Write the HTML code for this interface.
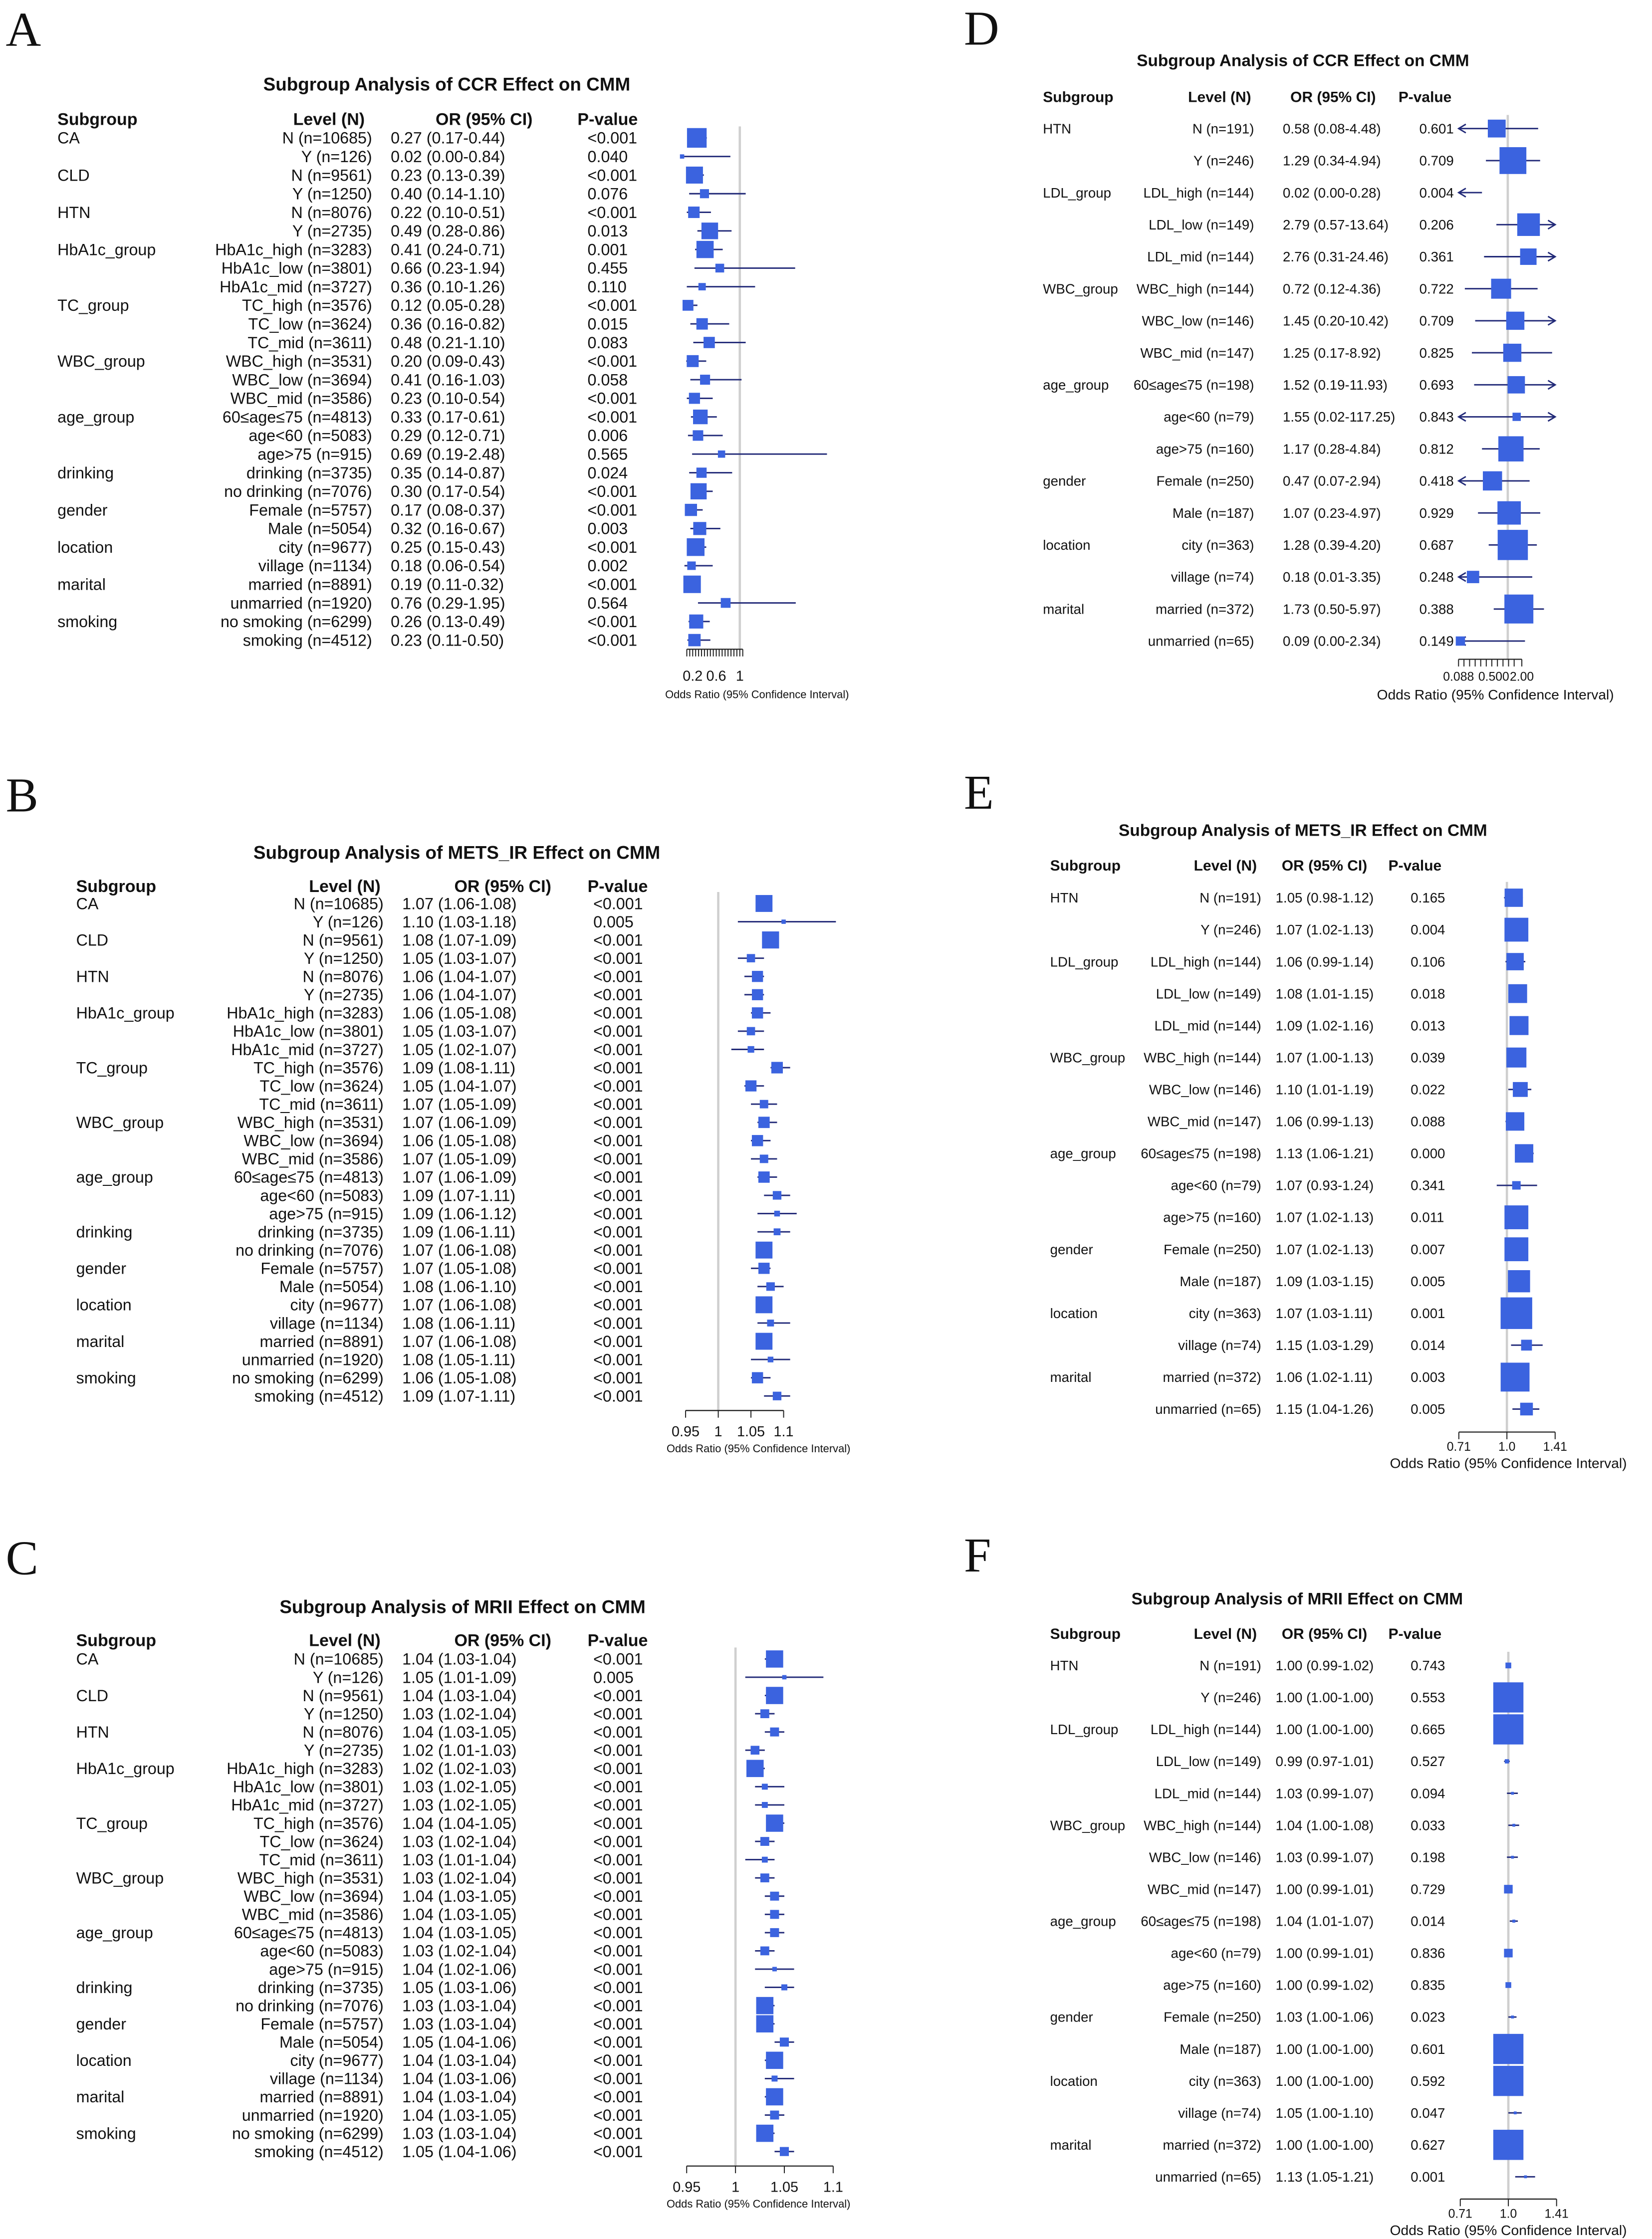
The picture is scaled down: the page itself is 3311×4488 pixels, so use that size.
<!DOCTYPE html>
<html><head><meta charset="utf-8"><style>
html,body{margin:0;padding:0;background:#fff}
svg{display:block}
text{font-family:"Liberation Sans",Arial,sans-serif;fill:#111}
</style></head><body>
<svg id="fig" xmlns="http://www.w3.org/2000/svg" width="3311" height="4488" viewBox="0 0 1150 1558.8" preserveAspectRatio="none"></svg>
<script>
// ---------- Data ----------
const bigGroups = ["CA","CLD","HTN","HbA1c_group","TC_group","WBC_group","age_group","drinking","gender","location","marital","smoking"];
const bigGroupStart = [0,2,4,6,9,12,15,18,20,22,24,26];
const bigLevels = ["N (n=10685)","Y (n=126)","N (n=9561)","Y (n=1250)","N (n=8076)","Y (n=2735)","HbA1c_high (n=3283)","HbA1c_low (n=3801)","HbA1c_mid (n=3727)","TC_high (n=3576)","TC_low (n=3624)","TC_mid (n=3611)","WBC_high (n=3531)","WBC_low (n=3694)","WBC_mid (n=3586)","60≤age≤75 (n=4813)","age<60 (n=5083)","age>75 (n=915)","drinking (n=3735)","no drinking (n=7076)","Female (n=5757)","Male (n=5054)","city (n=9677)","village (n=1134)","married (n=8891)","unmarried (n=1920)","no smoking (n=6299)","smoking (n=4512)"];

const aOR = [0.27,0.02,0.23,0.40,0.22,0.49,0.41,0.66,0.36,0.12,0.36,0.48,0.20,0.41,0.23,0.33,0.29,0.69,0.35,0.30,0.17,0.32,0.25,0.18,0.19,0.76,0.26,0.23];
const aLo = [0.17,0.00,0.13,0.14,0.10,0.28,0.24,0.23,0.10,0.05,0.16,0.21,0.09,0.16,0.10,0.17,0.12,0.19,0.14,0.17,0.08,0.16,0.15,0.06,0.11,0.29,0.13,0.11];
const aHi = [0.44,0.84,0.39,1.10,0.51,0.86,0.71,1.94,1.26,0.28,0.82,1.10,0.43,1.03,0.54,0.61,0.71,2.48,0.87,0.54,0.37,0.67,0.43,0.54,0.32,1.95,0.49,0.50];
const aP = ["<0.001","0.040","<0.001","0.076","<0.001","0.013","0.001","0.455","0.110","<0.001","0.015","0.083","<0.001","0.058","<0.001","<0.001","0.006","0.565","0.024","<0.001","<0.001","0.003","<0.001","0.002","<0.001","0.564","<0.001","<0.001"];

const bOR = [1.07,1.10,1.08,1.05,1.06,1.06,1.06,1.05,1.05,1.09,1.05,1.07,1.07,1.06,1.07,1.07,1.09,1.09,1.09,1.07,1.07,1.08,1.07,1.08,1.07,1.08,1.06,1.09];
const bLo = [1.06,1.03,1.07,1.03,1.04,1.04,1.05,1.03,1.02,1.08,1.04,1.05,1.06,1.05,1.05,1.06,1.07,1.06,1.06,1.06,1.05,1.06,1.06,1.06,1.06,1.05,1.05,1.07];
const bHi = [1.08,1.18,1.09,1.07,1.07,1.07,1.08,1.07,1.07,1.11,1.07,1.09,1.09,1.08,1.09,1.09,1.11,1.12,1.11,1.08,1.08,1.10,1.08,1.11,1.08,1.11,1.08,1.11];
const bP = ["<0.001","0.005","<0.001","<0.001","<0.001","<0.001","<0.001","<0.001","<0.001","<0.001","<0.001","<0.001","<0.001","<0.001","<0.001","<0.001","<0.001","<0.001","<0.001","<0.001","<0.001","<0.001","<0.001","<0.001","<0.001","<0.001","<0.001","<0.001"];

const cOR = [1.04,1.05,1.04,1.03,1.04,1.02,1.02,1.03,1.03,1.04,1.03,1.03,1.03,1.04,1.04,1.04,1.03,1.04,1.05,1.03,1.03,1.05,1.04,1.04,1.04,1.04,1.03,1.05];
const cLo = [1.03,1.01,1.03,1.02,1.03,1.01,1.02,1.02,1.02,1.04,1.02,1.01,1.02,1.03,1.03,1.03,1.02,1.02,1.03,1.03,1.03,1.04,1.03,1.03,1.03,1.03,1.03,1.04];
const cHi = [1.04,1.09,1.04,1.04,1.05,1.03,1.03,1.05,1.05,1.05,1.04,1.04,1.04,1.05,1.05,1.05,1.04,1.06,1.06,1.04,1.04,1.06,1.04,1.06,1.04,1.05,1.04,1.06];
const cP = bP.slice();

const smallGroups = ["HTN","LDL_group","WBC_group","age_group","gender","location","marital"];
const smallGroupStart = [0,2,5,8,11,13,15];
const dLevels = ["N (n=191)","Y (n=246)","LDL_high (n=144)","LDL_low (n=149)","LDL_mid (n=144)","WBC_high (n=144)","WBC_low (n=146)","WBC_mid (n=147)","60≤age≤75 (n=198)","age<60 (n=79)","age>75 (n=160)","Female (n=250)","Male (n=187)","city (n=363)","village (n=74)","married (n=372)","unmarried (n=65)"];

const dOR = [0.58,1.29,0.02,2.79,2.76,0.72,1.45,1.25,1.52,1.55,1.17,0.47,1.07,1.28,0.18,1.73,0.09];
const dLo = [0.08,0.34,0.00,0.57,0.31,0.12,0.20,0.17,0.19,0.02,0.28,0.07,0.23,0.39,0.01,0.50,0.00];
const dHi = [4.48,4.94,0.28,13.64,24.46,4.36,10.42,8.92,11.93,117.25,4.84,2.94,4.97,4.20,3.35,5.97,2.34];
const dP = ["0.601","0.709","0.004","0.206","0.361","0.722","0.709","0.825","0.693","0.843","0.812","0.418","0.929","0.687","0.248","0.388","0.149"];

const eOR = [1.05,1.07,1.06,1.08,1.09,1.07,1.10,1.06,1.13,1.07,1.07,1.07,1.09,1.07,1.15,1.06,1.15];
const eLo = [0.98,1.02,0.99,1.01,1.02,1.00,1.01,0.99,1.06,0.93,1.02,1.02,1.03,1.03,1.03,1.02,1.04];
const eHi = [1.12,1.13,1.14,1.15,1.16,1.13,1.19,1.13,1.21,1.24,1.13,1.13,1.15,1.11,1.29,1.11,1.26];
const eP = ["0.165","0.004","0.106","0.018","0.013","0.039","0.022","0.088","0.000","0.341","0.011","0.007","0.005","0.001","0.014","0.003","0.005"];

const fOR = [1.00,1.00,1.00,0.99,1.03,1.04,1.03,1.00,1.04,1.00,1.00,1.03,1.00,1.00,1.05,1.00,1.13];
const fLo = [0.99,1.00,1.00,0.97,0.99,1.00,0.99,0.99,1.01,0.99,0.99,1.00,1.00,1.00,1.00,1.00,1.05];
const fHi = [1.02,1.00,1.00,1.01,1.07,1.08,1.07,1.01,1.07,1.01,1.02,1.06,1.00,1.00,1.10,1.00,1.21];
const fP = ["0.743","0.553","0.665","0.527","0.094","0.033","0.198","0.729","0.014","0.836","0.835","0.023","0.601","0.592","0.047","0.627","0.001"];

const aTicks = [0.1,0.15,0.2,0.25,0.3,0.35,0.4,0.45,0.5,0.55,0.6,0.65,0.7,0.75,0.8,0.85,0.9,0.95,1.0,1.05];
const aTickLabels = [0.2,0.6,1];
const bcTicks = [0.95,1,1.05,1.1];
const dTicks = [0.088,0.115,0.152,0.2,0.263,0.346,0.455,0.6,0.79,1.04,1.37,2.0];
const dTickLabels = ["0.088","0.500","2.00"];
const dTickLabelVals = [0.088,0.5,2.0];
const efTicks = [0.71,1.0,1.41];

// ---------- Helpers ----------
const NS="http://www.w3.org/2000/svg";
const svg=document.getElementById('fig');
function el(tag,attrs,parent){const e=document.createElementNS(NS,tag);for(const k in attrs)e.setAttribute(k,attrs[k]);(parent||svg).appendChild(e);return e;}
function txt(s,x,y,size,anchor,weight,parent,family){const t=el('text',{x:x,y:y,'font-size':size,'text-anchor':anchor||'start','font-weight':weight||'normal'},parent);if(family)t.setAttribute('style','font-family:'+family);t.textContent=s;return t;}
const BOX="#3b63df", LINE="#222a78";

function panel(cfg){
  const g=el('g',{});
  
  
  const lt=txt(cfg.letter,cfg.letterX,cfg.letterY,34,'start','normal',g,'"Liberation Serif",serif');
  
  
  const tt=txt(cfg.title,cfg.titleX,cfg.titleY,cfg.titleSize,'middle','bold',g);
  
  
  const hs=cfg.headSize;
  const h1=txt('Subgroup',cfg.subX,cfg.headY,hs,'start','bold',g);
  
  
  const h2=txt('Level (N)',cfg.levelHX,cfg.headY,hs,'middle','bold',g);
  
  
  const h3=txt('OR (95% CI)',cfg.orHX,cfg.headY,hs,'middle','bold',g);
  
  
  const h4=txt('P-value',cfg.pHX,cfg.headY,hs,'middle','bold',g);
  
  
  const n=cfg.levels.length;
  const rowY=i=>cfg.y0+i*cfg.step;
  cfg.groups.forEach((s,gi)=>{
    const t=txt(s,cfg.subX,rowY(cfg.groupStart[gi])+cfg.fs*0.35,cfg.fs,'start','normal',g);
    
    
  });
  const ref=el('line',{x1:cfg.x(1),x2:cfg.x(1),y1:cfg.refTop,y2:cfg.axisY,stroke:'#cfcfcf','stroke-width':1.6},g);
  
  
  const xmin=cfg.xMinPx, xmax=cfg.xMaxPx;
  for(let i=0;i<n;i++){
    const y=rowY(i), ty=y+cfg.fs*0.35;
    const lv=txt(cfg.levels[i],cfg.levelRX,ty,cfg.fs,'end','normal',g);
    
    
    const ot=txt(cfg.or[i].toFixed(2)+' ('+cfg.lo[i].toFixed(2)+'-'+cfg.hi[i].toFixed(2)+')',cfg.orX,ty,cfg.fs,'start','normal',g);
    
    
    const pt=txt(cfg.p[i],cfg.pX,ty,cfg.fs,'start','normal',g);
    
    
    let x1=cfg.x(cfg.lo[i]), x2=cfg.x(cfg.hi[i]);
    const la=x1<xmin, ra=x2>xmax;
    x1=Math.max(x1,xmin); x2=Math.min(x2,xmax);
    const ci=el('line',{x1:x1,x2:x2,y1:y,y2:y,stroke:LINE,'stroke-width':1},g);
    
    
    if(la){const a=el('path',{d:`M${xmin+5},${y-3} L${xmin},${y} L${xmin+5},${y+3}`,fill:'none',stroke:LINE,'stroke-width':1},g);
      
      }
    if(ra){const a=el('path',{d:`M${xmax-5},${y-3} L${xmax},${y} L${xmax-5},${y+3}`,fill:'none',stroke:LINE,'stroke-width':1},g);
      
      }
    const cx=cfg.x(cfg.or[i]);
    if(cx>=xmin-2 && cx<=xmax){
      const w=Math.log(Math.max(cfg.hi[i],1e-3))-Math.log(Math.max(cfg.lo[i],1e-3));
      let s=w<=0?cfg.bMax:cfg.bC/w; s=Math.max(cfg.bMin,Math.min(cfg.bMax,s));
      let bx=cx-s/2; if(bx<xmin-2){bx=xmin-2;}
      const b=el('rect',{x:bx,y:y-s/2,width:s,height:s,fill:BOX},g);
      
      
    }
  }
  const ax=el('line',{x1:cfg.x(cfg.ticks[0]),x2:cfg.x(cfg.ticks[cfg.ticks.length-1]),y1:cfg.axisY,y2:cfg.axisY,stroke:'#222','stroke-width':0.8},g);
  
  
  cfg.ticks.forEach(v=>{const tk=el('line',{x1:cfg.x(v),x2:cfg.x(v),y1:cfg.axisY,y2:cfg.axisY+cfg.tickLen,stroke:'#222','stroke-width':0.7},g);
    
    });
  cfg.tickLabelVals.forEach((v,i)=>{const t=txt(cfg.tickLabels[i],cfg.x(v),cfg.tickLabelY,cfg.tickFs,'middle','normal',g);
    
    });
  const xl=txt('Odds Ratio (95% Confidence Interval)',cfg.xlabX,cfg.xlabY,cfg.xlabFs,'middle','normal',g);
  
  
}
const lin=(x1,k)=>v=>x1+(v-1)*k;
const lg=(x1,k)=>v=>x1+Math.log(Math.max(v,1e-4))*k;

const bigBase={groups:bigGroups,groupStart:bigGroupStart,levels:bigLevels,fs:11.2,headSize:11.8,titleSize:12.8,tickLen:5,tickFs:10,xlabFs:7.6};
panel(Object.assign({},bigBase,{name:'panel-a-ccr',letter:'A',letterX:4,letterY:32,title:'Subgroup Analysis of  CCR Effect on CMM',titleX:311,titleY:63,headY:87,subX:40,levelHX:229,orHX:337,pHX:423,
  y0:96,step:12.95,levelRX:259,orX:272,pX:409,or:aOR,lo:aLo,hi:aHi,p:aP,x:lin(515,41),xMinPx:468,xMaxPx:600,refTop:88,axisY:452,
  ticks:aTicks,tickLabelVals:aTickLabels,tickLabels:['0.2','0.6','1'],tickLabelY:474,xlabX:527,xlabY:486,bC:13,bMin:3,bMax:14}));
panel(Object.assign({},bigBase,{name:'panel-b-mets-ir',letter:'B',letterX:4,letterY:565,title:'Subgroup Analysis of  METS_IR Effect on CMM',titleX:318,titleY:598,headY:621,subX:53,levelHX:240,orHX:350,pHX:430,
  y0:629,step:12.7,levelRX:267,orX:280,pX:413,or:bOR,lo:bLo,hi:bHi,p:bP,x:lin(500,455),xMinPx:460,xMaxPx:600,refTop:621,axisY:982,
  ticks:bcTicks,tickLabelVals:bcTicks,tickLabels:['0.95','1','1.05','1.1'],tickLabelY:1000,xlabX:528,xlabY:1011,bC:0.22,bMin:3,bMax:13}));
panel(Object.assign({},bigBase,{name:'panel-c-mrii',letter:'C',letterX:4,letterY:1096,title:'Subgroup Analysis of MRII Effect on CMM',titleX:322,titleY:1123,headY:1146,subX:53,levelHX:240,orHX:350,pHX:430,
  y0:1155,step:12.7,levelRX:267,orX:280,pX:413,or:cOR,lo:cLo,hi:cHi,p:cP,x:lin(512,680),xMinPx:470,xMaxPx:600,refTop:1147,axisY:1508,
  ticks:bcTicks,tickLabelVals:bcTicks,tickLabels:['0.95','1','1.05','1.1'],tickLabelY:1526,xlabX:528,xlabY:1537,bC:0.12,bMin:3,bMax:12}));

const smallBase={groups:smallGroups,groupStart:smallGroupStart,levels:dLevels,fs:9.6,headSize:10.4,titleSize:11.6,tickLen:5,tickFs:8.6,xlabFs:9.8};
panel(Object.assign({},smallBase,{name:'panel-d-ccr',letter:'D',letterX:671,letterY:31,title:'Subgroup Analysis of CCR Effect on CMM',titleX:907,titleY:46,headY:71,subX:726,levelHX:849,orHX:928,pHX:992,
  y0:89.5,step:22.3,levelRX:873,orX:893,pX:988,or:dOR,lo:dLo,hi:dHi,p:dP,x:lg(1049.6,14.1),xMinPx:1015.4,xMaxPx:1082.6,refTop:80,axisY:459,
  ticks:dTicks,tickLabelVals:dTickLabelVals,tickLabels:dTickLabels,tickLabelY:474,xlabX:1041,xlabY:487,bC:50,bMin:5,bMax:22}));
panel(Object.assign({},smallBase,{name:'panel-e-mets-ir',letter:'E',letterX:671,letterY:563,title:'Subgroup Analysis of METS_IR Effect on CMM',titleX:907,titleY:582,headY:606,subX:731,levelHX:853,orHX:922,pHX:985,
  y0:625,step:22.25,levelRX:878,orX:888,pX:982,or:eOR,lo:eLo,hi:eHi,p:eP,x:lg(1049,97.7),xMinPx:1000,xMaxPx:1100,refTop:614,axisY:997,
  ticks:efTicks,tickLabelVals:efTicks,tickLabels:['0.71','1.0','1.41'],tickLabelY:1010,xlabX:1050,xlabY:1022,bC:1.7,bMin:5,bMax:22}));
panel(Object.assign({},smallBase,{name:'panel-f-mrii',letter:'F',letterX:671,letterY:1094,title:'Subgroup Analysis of MRII Effect on CMM',titleX:903,titleY:1117,headY:1141,subX:731,levelHX:853,orHX:922,pHX:985,
  y0:1159.5,step:22.25,levelRX:878,orX:888,pX:982,or:fOR,lo:fLo,hi:fHi,p:fP,x:lg(1050,97.7),xMinPx:1000,xMaxPx:1100,refTop:1150,axisY:1531,
  ticks:efTicks,tickLabelVals:efTicks,tickLabels:['0.71','1.0','1.41'],tickLabelY:1544,xlabX:1050,xlabY:1556,bC:0.12,bMin:2,bMax:21}));
</script>
</body></html>
